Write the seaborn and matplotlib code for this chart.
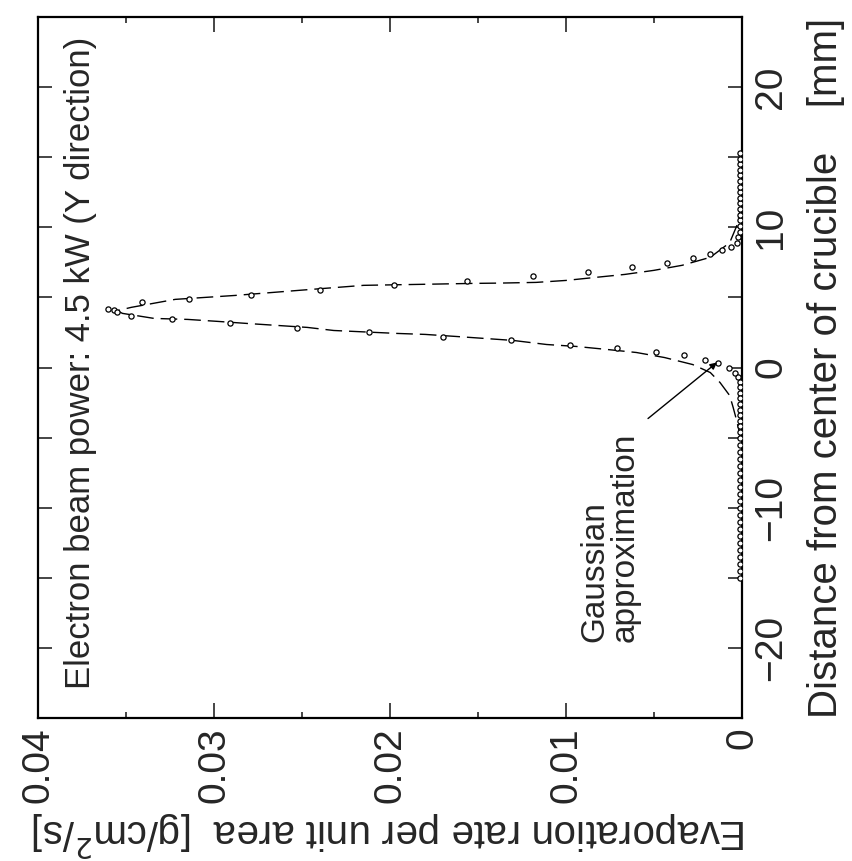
import numpy as np
import pandas as pd
import matplotlib
matplotlib.use("Agg")
import matplotlib.pyplot as plt
import seaborn as sns
from matplotlib.ticker import MultipleLocator, FixedLocator, FuncFormatter

# ---- data (rate [g/cm2/s], distance [mm]) ----
# Gaussian approximation curve (dashed)
fit_rate = [0.00005, 0.00017, 0.0003, 0.0005, 0.0007, 0.00125, 0.0018, 0.0028,
            0.0044, 0.0060, 0.0077, 0.0094, 0.0111, 0.0130, 0.0146, 0.0162,
            0.0180, 0.0196, 0.0232, 0.0247, 0.0264, 0.0281, 0.0298, 0.0315,
            0.0334, 0.0352, 0.0355,
            0.0347, 0.0322, 0.0288, 0.0252, 0.0215, 0.0183, 0.0152, 0.0138,
            0.0117, 0.0100, 0.0083, 0.00665, 0.0050, 0.0034, 0.0018, 0.0007,
            0.0003, 0.0001]
fit_dist = [-5.2, -4.5, -3.8, -2.86, -2.0, -1.07, -0.36, 0.21,
            0.71, 1.07, 1.29, 1.5, 1.64, 1.93, 2.07, 2.21,
            2.36, 2.43, 2.64, 2.86, 3.0, 3.14, 3.29, 3.43,
            3.5, 3.86, 4.05,
            4.29, 4.86, 5.14, 5.5, 5.86, 5.93, 6.0, 6.02,
            6.07, 6.21, 6.43, 6.64, 6.93, 7.29, 7.86, 8.9,
            10.1, 11.2]

# Measured points (open circles)
meas_rate = [0.0357, 0.0360, 0.0355,
             0.0341, 0.0314, 0.0279, 0.0240, 0.0198, 0.0156, 0.0119, 0.00875,
             0.00625, 0.00426, 0.00278, 0.0018, 0.00114, 0.0006, 0.0003, 0.0002,
             0.0347, 0.0324, 0.0291, 0.0253, 0.0212, 0.0170, 0.0131, 0.0098,
             0.0071, 0.0049, 0.0033, 0.0021, 0.00136, 0.00074, 0.0004, 0.0002,
             0.0001, 0.0001, 0.0001, 0.0001, 0.0001, 0.0001, 0.0001, 0.0001,
             0.0001, 0.0001, 0.0001, 0.0001, 0.0001, 0.0001, 0.0001, 0.0001,
             0.0001, 0.0001, 0.0001, 0.0001, 0.0001, 0.0001, 0.0001, 0.0001,
             0.0001, 0.0001, 0.0001, 0.0001, 0.0001, 0.0001, 0.0001,
             0.0001, 0.0001, 0.0001, 0.0001, 0.0001, 0.0001, 0.0001, 0.0001,
             0.0001, 0.0001, 0.0001, 0.0001, 0.0001, 0.0001, 0.0001]
meas_dist = [4.07, 4.2, 3.95,
             4.64, 4.86, 5.2, 5.5, 5.86, 6.2, 6.5, 6.8,
             7.14, 7.43, 7.8, 8.1, 8.4, 8.6, 8.9, 9.3,
             3.64, 3.43, 3.14, 2.79, 2.5, 2.21, 1.93, 1.64,
             1.36, 1.07, 0.86, 0.57, 0.29, -0.07, -0.36, -0.7,
             -1.0, -1.4, -1.8, -2.2, -2.6, -3.0, -3.4, -3.8,
             -4.2, -4.6, -5.0, -5.5, -6.0, -6.5, -7.0, -7.5,
             -8.0, -8.5, -9.0, -9.5, -10.0, -10.5, -11.0, -11.5,
             -12.0, -12.5, -13.0, -13.5, -14.0, -14.5, -15.0,
             9.7, 10.1, 10.5, 10.9, 11.3, 11.7, 12.1, 12.5,
             12.9, 13.3, 13.7, 14.1, 14.5, 14.9, 15.3]

rate_ticks = [0.04, 0.03, 0.02, 0.01, 0.0]
rate_labels = ["0.04", "0.03", "0.02", "0.01", "0"]
dist_ticks = [-20, -10, 0, 10, 20]
dist_labels = ["\u221220", "\u221210", "0", "10", "20"]

fit_df = pd.DataFrame({"rate": fit_rate, "dist": fit_dist})
meas_df = pd.DataFrame({"rate": meas_rate, "dist": meas_dist})

sns.set_style("ticks")
plt.rcParams["font.family"] = ["Liberation Sans", "DejaVu Sans"]

fig = plt.figure(figsize=(8.52, 8.61), dpi=100)
ax = fig.add_axes([38 / 852, (861 - 718) / 861, (742 - 38) / 852, (718 - 17) / 861])

sns.lineplot(data=fit_df, x="rate", y="dist", orient="y", sort=False, ax=ax,
             color="black", linewidth=1.0, linestyle=(0, (12, 5)))
sns.scatterplot(data=meas_df, x="rate", y="dist", ax=ax, marker="o", s=14,
                facecolor="white", edgecolor="black", linewidth=0.9, zorder=3)

ax.set_xlim(0.04, 0.0)
ax.set_ylim(-25, 25)

ax.xaxis.set_major_locator(FixedLocator(rate_ticks))
ax.xaxis.set_minor_locator(MultipleLocator(0.005))
ax.set_xticklabels(rate_labels)
ax.yaxis.set_major_locator(FixedLocator(dist_ticks))
ax.yaxis.set_minor_locator(FixedLocator([-25, -15, -5, 5, 15, 25]))

ax.tick_params(axis="x", which="both", direction="in", top=True, bottom=True,
               width=1.2, labelsize=28, labelrotation=90, pad=7)
ax.tick_params(axis="x", which="major", length=11)
ax.tick_params(axis="x", which="minor", length=4)
ax.tick_params(axis="y", which="both", direction="in", left=True, right=True,
               labelleft=False, labelright=True, width=1.2, length=10,
               labelsize=28, labelrotation=90, pad=8)
ax.yaxis.tick_right()
ax.tick_params(axis="y", which="both", left=True)
ax.set_yticklabels(dist_labels, va="center")

for sp in ax.spines.values():
    sp.set_linewidth(1.6)
    sp.set_color("black")

ax.set_xlabel("Evaporation rate per unit area  [g/cm$^2$/s]", fontsize=29,
              rotation=180, labelpad=4)
ax.yaxis.set_label_position("right")
ax.set_ylabel("Distance from center of crucible    [mm]", fontsize=29,
              rotation=90, labelpad=13)

ax.text(0.0376, -22.9, "Electron beam power: 4.5 kW (Y direction)",
        rotation=90, ha="center", va="bottom", fontsize=25)
ax.text(0.0075, -19.6, "Gaussian\napproximation", rotation=90,
        ha="center", va="bottom", fontsize=24, multialignment="left",
        linespacing=0.95)
ax.annotate("", xy=(0.00142, 0.36), xytext=(0.00534, -3.64),
            arrowprops=dict(arrowstyle="-|>", color="black", lw=1.0,
                            mutation_scale=10, shrinkA=0, shrinkB=0))

fig.savefig("out.png", dpi=100, facecolor="white")
